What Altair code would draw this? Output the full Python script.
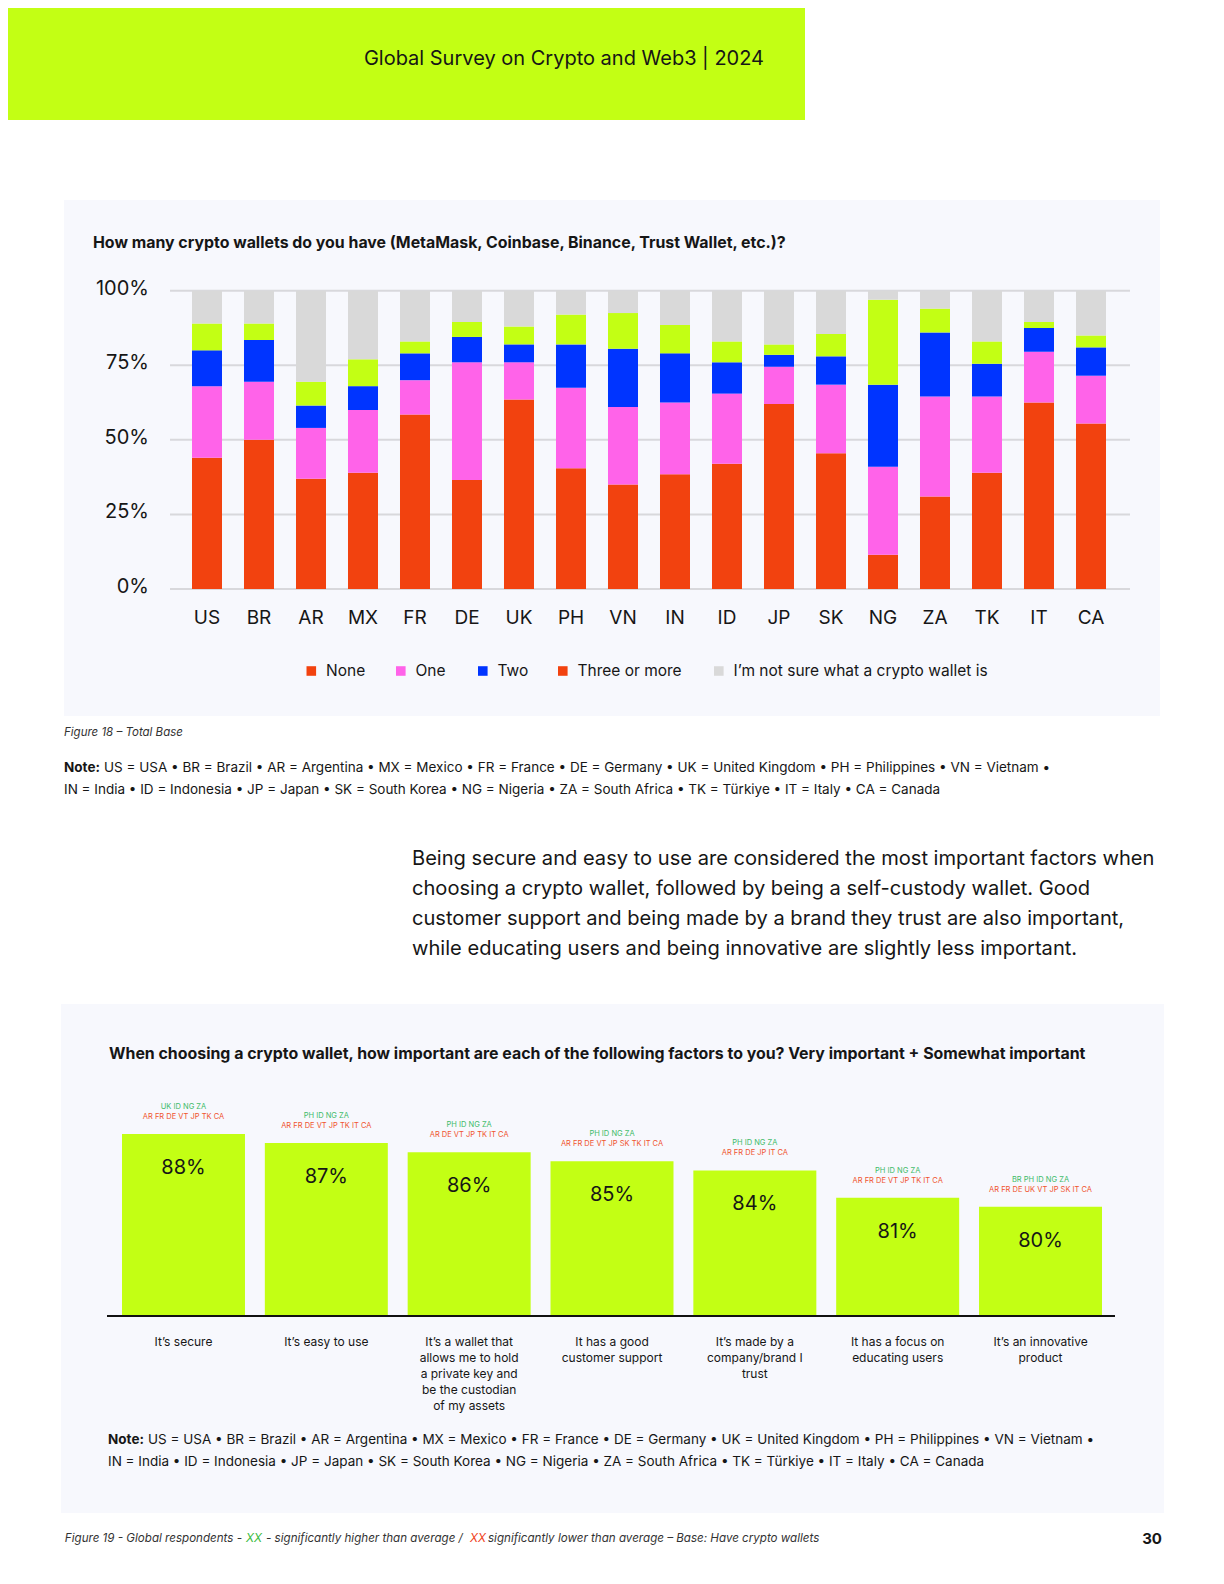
import altair as alt
import pandas as pd

# ---------------- data ----------------
countries = ["US", "BR", "AR", "MX", "FR", "DE", "UK", "PH", "VN",
             "IN", "ID", "JP", "SK", "NG", "ZA", "TK", "IT", "CA"]
series = ["None", "One", "Two", "Three or more", "I\u2019m not sure what a crypto wallet is"]
none_vals = [44, 50, 37, 39, 58.5, 36.5, 63.5, 40.5, 35, 38.5, 42, 62, 45.5, 11.5, 31, 39, 62.5, 55.5]
one_vals = [24, 19.5, 17, 21, 11.5, 39.5, 12.5, 27, 26, 24, 23.5, 12.5, 23, 29.5, 33.5, 25.5, 17, 16]
two_vals = [12, 14, 7.5, 8, 9, 8.5, 6, 14.5, 19.5, 16.5, 10.5, 4, 9.5, 27.5, 21.5, 11, 8, 9.5]
three_vals = [9, 5.5, 8, 9, 4, 5, 6, 10, 12, 9.5, 7, 3.5, 7.5, 28.5, 8, 7.5, 2, 4]
notsure_vals = [11, 11, 30.5, 23, 17, 10.5, 12, 8, 7.5, 11.5, 17, 18, 14.5, 3, 6, 17, 10.5, 15]
ytick_vals = [0, 25, 50, 75, 100]
ytick_labels = ["0%", "25%", "50%", "75%", "100%"]

factors = ["It\u2019s secure", "It\u2019s easy to use",
           "It\u2019s a wallet that\nallows me to hold\na private key and\nbe the custodian\nof my assets",
           "It has a good\ncustomer support", "It\u2019s made by a\ncompany/brand I\ntrust",
           "It has a focus on\neducating users", "It\u2019s an innovative\nproduct"]
importance = [88, 87, 86, 85, 84, 81, 80]
higher = ["UK ID NG ZA", "PH ID NG ZA", "PH ID NG ZA", "PH ID NG ZA", "PH ID NG ZA",
          "PH ID NG ZA", "BR PH ID NG ZA"]
lower = ["AR FR DE VT JP TK CA", "AR FR DE VT JP TK IT CA", "AR DE VT JP TK IT CA",
         "AR FR DE VT JP SK TK IT CA", "AR FR DE JP IT CA", "AR FR DE VT JP TK IT CA",
         "AR FR DE UK VT JP SK IT CA"]

# ---------------- style ----------------
F = "Inter"
LIME = "#c3ff14"
ORANGE = "#f2420f"
PINK = "#ff63e9"
BLUE = "#0034ff"
GREY = "#d9d9d9"
PANEL = "#f7f8fd"
INK = "#161616"
bar_colors = [ORANGE, PINK, BLUE, LIME, GREY]
legend_colors = [ORANGE, PINK, BLUE, ORANGE, GREY]   # as printed in the original legend
legend_left = [306.5, 396, 478, 558, 714]             # layout: left edge of each legend entry
OX, OY = 8, 8  # page margin
BASE2 = 68     # lower end of the value axis of the second chart

def px(v):
    return alt.value(v - OX)

def py(v):
    return alt.value(v - OY)

dummy = pd.DataFrame({"d": [0]})

# ---------------- tables ----------------
arrays = [none_vals, one_vals, two_vals, three_vals, notsure_vals]
rows = []
for i, c in enumerate(countries):
    for k, (s, arr) in enumerate(zip(series, arrays)):
        rows.append({"country": c, "series": s, "k": k, "value": arr[i]})
df1 = pd.DataFrame(rows)
ticks = pd.DataFrame({"v": ytick_vals, "lab": ytick_labels})
cdf = pd.DataFrame({"country": countries})
df2 = pd.DataFrame({"factor": factors, "pct": importance,
                    "lab": [f"{v}%" for v in importance],
                    "hi": higher, "lo": lower})
basedf = pd.DataFrame({"b": [BASE2]})

# ---------------- chart 1 ----------------
def x1s():
    return alt.Scale(type="band", domain=countries, range=[192 - OX, 1106 - OX],
                     paddingInner=0.423, paddingOuter=0)

def y1s():
    return alt.Scale(domain=[0, 100], range=[589 - OY, 290.7 - OY], nice=False)

grid = alt.Chart(ticks).mark_rule(color="#d8d8dc", strokeWidth=2).encode(
    y=alt.Y("v:Q", scale=y1s(), axis=None), x=px(170), x2=px(1130))
ylab = alt.Chart(ticks).mark_text(align="right", baseline="middle", font=F, fontSize=20,
                                  color=INK, dy=-2).encode(
    y=alt.Y("v:Q", scale=y1s(), axis=None), x=px(149), text="lab:N")
bars1 = alt.Chart(df1).mark_bar().encode(
    x=alt.X("country:N", scale=x1s(), axis=None),
    y=alt.Y("value:Q", stack="zero", scale=y1s(), axis=None),
    color=alt.Color("series:N", scale=alt.Scale(domain=series, range=bar_colors), legend=None),
    order=alt.Order("k:Q", sort="ascending"))
xlab = alt.Chart(cdf).mark_text(baseline="middle", font=F, fontSize=19, color=INK).encode(
    x=alt.X("country:N", scale=x1s(), axis=None), y=py(618), text="country:N")

# legend (drawn as guide marks, swatch colours as printed in the original)
legend_layers = []
for name, col, x0 in zip(series, legend_colors, legend_left):
    legend_layers.append(
        alt.Chart(dummy).mark_square(size=92, color=col, opacity=1).encode(x=px(x0 + 4.8), y=py(671)))
    legend_layers.append(
        alt.Chart(dummy).mark_text(font=F, fontSize=15.5, color=INK, align="left", baseline="middle").encode(
            x=px(x0 + 19.5), y=py(671), text=alt.value(name)))

# ---------------- chart 2 ----------------
def x2s():
    return alt.Scale(type="band", domain=factors, range=[122 - OX, 1102 - OX],
                     paddingInner=0.139, paddingOuter=0)

def y2s():
    return alt.Scale(domain=[BASE2, 100], range=[1316 - OY, 1316 - OY - 32 * 9.1], nice=False, zero=False)

def X2():
    return alt.X("factor:N", scale=x2s(), axis=None)

def Y2():
    return alt.Y("pct:Q", scale=y2s(), axis=None)

bars2 = alt.Chart(df2).mark_bar(color=LIME).encode(x=X2(), y=Y2(), y2=alt.datum(BASE2))
plab = alt.Chart(df2).mark_text(font=F, fontSize=20, color=INK, baseline="middle", dy=34).encode(
    x=X2(), y=Y2(), text="lab:N")
hlab = alt.Chart(df2).mark_text(font=F, fontSize=7.5, color="#3dbb68", baseline="middle", dy=-27).encode(
    x=X2(), y=Y2(), text="hi:N")
llab = alt.Chart(df2).mark_text(font=F, fontSize=7.5, color="#f0542e", baseline="middle", dy=-17).encode(
    x=X2(), y=Y2(), text="lo:N")
base = alt.Chart(basedf).mark_rule(color="#111111", strokeWidth=2).encode(
    y=alt.Y("b:Q", scale=y2s(), axis=None), x=px(107), x2=px(1115))
clab = alt.Chart(df2).mark_text(font=F, fontSize=12, color=INK, baseline="top", lineBreak="\n",
                                lineHeight=16).encode(x=X2(), y=py(1337), text="factor:N")

# ---------------- page decorations and texts ----------------
def rect(x0, x1, y0, y1, color):
    return alt.Chart(dummy).mark_rect(color=color).encode(x=px(x0), x2=px(x1), y=py(y0), y2=py(y1))

def txt(s, x, y, size, color=INK, align="left", weight="normal", style="normal", baseline="middle", **kw):
    return alt.Chart(dummy).mark_text(font=F, fontSize=size, color=color, align=align,
                                      fontWeight=weight, fontStyle=style, baseline=baseline, **kw).encode(
        x=px(x), y=py(y), text=alt.value(s))

banner = rect(OX, 805, OY, 120, LIME)
panel1 = rect(64, 1160, 200, 716, PANEL)
panel2 = rect(61, 1164, 1004, 1513, PANEL)

FOOT = "#333333"
texts = [
    txt("Global Survey on Crypto and Web3  |  2024", 764, 59, 20, align="right"),
    txt("How many crypto wallets do you have (MetaMask, Coinbase, Binance, Trust Wallet, etc.)?",
        93, 243, 15.9, weight="bold"),
    txt("Figure 18 \u2013 Total Base", 64, 733, 11.5, color=FOOT, style="italic"),
    txt("Note:", 64, 768, 13.5, weight="bold"),
    txt("US = USA \u2022 BR = Brazil \u2022 AR = Argentina \u2022 MX = Mexico \u2022 FR = France \u2022 "
        "DE = Germany \u2022 UK = United Kingdom \u2022 PH = Philippines \u2022 VN = Vietnam \u2022",
        104, 768, 13.5),
    txt("IN = India \u2022 ID = Indonesia \u2022 JP = Japan \u2022 SK = South Korea \u2022 NG = Nigeria \u2022 "
        "ZA = South Africa \u2022 TK = T\u00fcrkiye \u2022 IT = Italy \u2022 CA = Canada", 64, 790, 13.5),
    txt("Being secure and easy to use are considered the most important factors when\n"
        "choosing a crypto wallet, followed by being a self-custody wallet. Good\n"
        "customer support and being made by a brand they trust are also important,\n"
        "while educating users and being innovative are slightly less important.",
        412, 849, 20.1, baseline="top", lineBreak="\n", lineHeight=30),
    txt("When choosing a crypto wallet, how important are each of the following factors to you? "
        "Very important + Somewhat important", 109, 1054, 15.9, weight="bold"),
    txt("Note:", 108, 1440, 13.5, weight="bold"),
    txt("US = USA \u2022 BR = Brazil \u2022 AR = Argentina \u2022 MX = Mexico \u2022 FR = France \u2022 "
        "DE = Germany \u2022 UK = United Kingdom \u2022 PH = Philippines \u2022 VN = Vietnam \u2022",
        148, 1440, 13.5),
    txt("IN = India \u2022 ID = Indonesia \u2022 JP = Japan \u2022 SK = South Korea \u2022 NG = Nigeria \u2022 "
        "ZA = South Africa \u2022 TK = T\u00fcrkiye \u2022 IT = Italy \u2022 CA = Canada", 108, 1462, 13.5),
    txt("Figure 19 - Global respondents -", 242, 1539, 11.6, color=FOOT, style="italic", align="right"),
    txt("XX", 246, 1539, 11.6, color="#3dbb3d", style="italic"),
    txt("- significantly higher than average /", 266, 1539, 11.6, color=FOOT, style="italic"),
    txt("XX", 470, 1539, 11.6, color="#f0421a", style="italic"),
    txt("significantly lower than average \u2013 Base: Have crypto wallets", 488, 1539, 11.6,
        color=FOOT, style="italic"),
    txt("30", 1162, 1539, 15, align="right", weight="bold"),
]

layers = [banner, panel1, panel2, *texts,
          grid, ylab, bars1, xlab, *legend_layers,
          bars2, base, plab, hlab, llab, clab]

chart = alt.layer(*layers).resolve_scale(
    x="independent", y="independent"
).properties(
    width=1224 - 2 * OX, height=1584 - 2 * OY,
    autosize=alt.AutoSizeParams(type="none"), padding=0, background="#ffffff"
).configure_view(stroke=None)

chart.save("out.html", embed_options={"renderer": "svg", "actions": False})
